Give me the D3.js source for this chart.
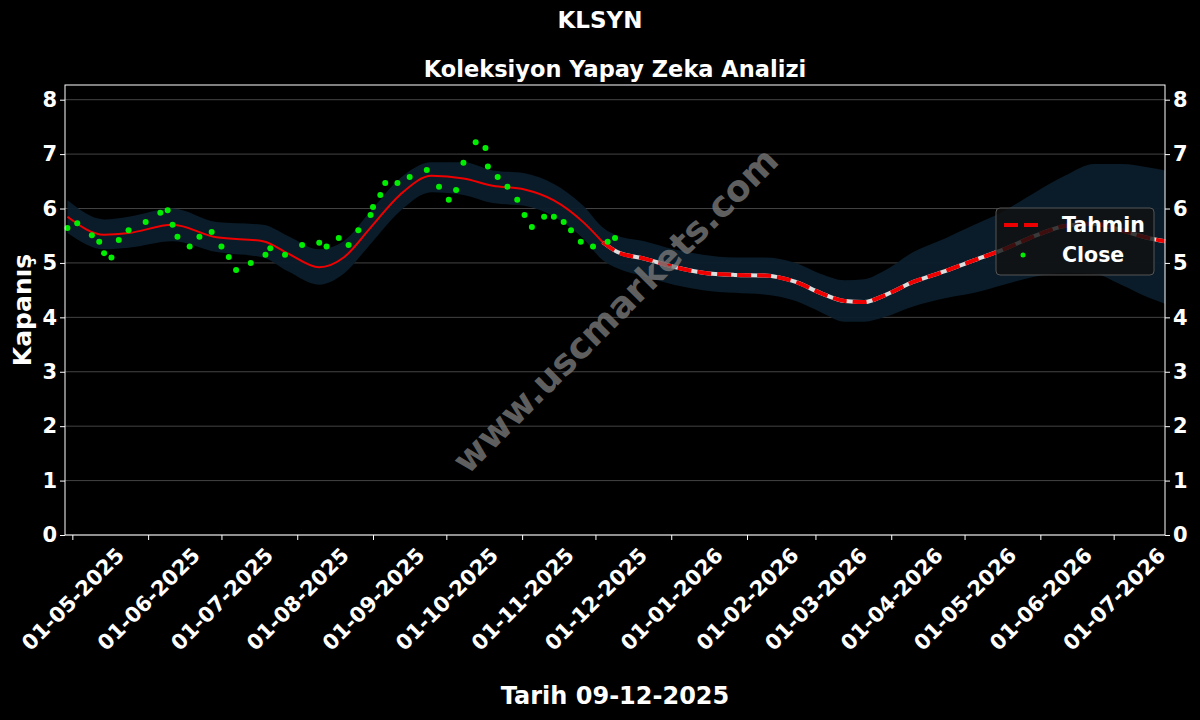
<!DOCTYPE html>
<html>
<head>
<meta charset="UTF-8"/>
<script src="https://cdn.jsdelivr.net/npm/d3@7"></script>
<style>
  body { margin: 0; background: #000; }
  svg { font-family: "DejaVu Sans", sans-serif; font-weight: bold; }
</style>
</head>
<body>
<svg id="main" width="1200" height="720"></svg>
<script>
// close prices (date, value)
var closeDates = ['2025-04-29','2025-05-03','2025-05-09','2025-05-12','2025-05-14','2025-05-17','2025-05-20','2025-05-24','2025-05-31','2025-06-06','2025-06-09','2025-06-11','2025-06-13','2025-06-18','2025-06-22','2025-06-27','2025-07-01','2025-07-04','2025-07-07','2025-07-13','2025-07-19','2025-07-21','2025-07-27','2025-08-03','2025-08-10','2025-08-13','2025-08-18','2025-08-22','2025-08-26','2025-08-31','2025-09-01','2025-09-04','2025-09-06','2025-09-11','2025-09-16','2025-09-23','2025-09-28','2025-10-02','2025-10-05','2025-10-08','2025-10-13','2025-10-17','2025-10-18','2025-10-22','2025-10-26','2025-10-30','2025-11-02','2025-11-05','2025-11-10','2025-11-14','2025-11-18','2025-11-21','2025-11-25','2025-11-30','2025-12-06','2025-12-09'];
var closeValues = [5.64,5.73,5.51,5.39,5.18,5.10,5.42,5.60,5.75,5.92,5.97,5.70,5.48,5.30,5.48,5.57,5.30,5.11,4.87,5.00,5.15,5.27,5.15,5.33,5.37,5.30,5.46,5.33,5.60,5.88,6.03,6.25,6.47,6.47,6.58,6.71,6.40,6.16,6.34,6.84,7.22,7.11,6.77,6.58,6.40,6.16,5.88,5.66,5.85,5.85,5.75,5.60,5.39,5.30,5.39,5.46];

// model line and confidence band
var predDates = ['2025-04-29','2025-05-14','2025-05-24','2025-06-11','2025-06-29','2025-07-18','2025-07-28','2025-08-10','2025-08-20','2025-08-31','2025-09-12','2025-09-25','2025-10-08','2025-10-20','2025-11-02','2025-11-14','2025-11-26','2025-12-04','2025-12-10','2025-12-21','2026-01-02','2026-01-14','2026-01-27','2026-02-08','2026-02-21','2026-03-03','2026-03-13','2026-03-21','2026-03-29','2026-04-10','2026-04-23','2026-05-05','2026-05-17','2026-05-30','2026-06-11','2026-06-23','2026-07-04','2026-07-16','2026-07-22'];
var predValues = [5.85,5.52,5.55,5.70,5.47,5.40,5.18,4.92,5.10,5.65,6.25,6.60,6.55,6.42,6.35,6.15,5.75,5.38,5.20,5.08,4.93,4.82,4.78,4.77,4.65,4.45,4.30,4.28,4.40,4.65,4.85,5.05,5.25,5.50,5.68,5.72,5.60,5.45,5.40];
var bandLow = [5.55,5.25,5.28,5.40,5.20,5.10,4.85,4.60,4.80,5.35,5.95,6.30,6.25,6.10,6.05,5.85,5.45,5.05,4.90,4.75,4.60,4.50,4.45,4.42,4.30,4.10,3.92,3.92,4.00,4.20,4.35,4.45,4.60,4.75,4.82,4.80,4.60,4.35,4.25];
var bandHigh = [6.15,5.80,5.85,6.00,5.75,5.70,5.50,5.25,5.40,5.95,6.55,6.85,6.85,6.70,6.65,6.45,6.05,5.65,5.50,5.40,5.25,5.15,5.10,5.10,5.00,4.80,4.68,4.70,4.85,5.20,5.45,5.70,5.95,6.30,6.60,6.82,6.82,6.75,6.70];
var lastClose = '2025-12-09';

var xTicks = ['2025-05-01','2025-06-01','2025-07-01','2025-08-01','2025-09-01','2025-10-01','2025-11-01','2025-12-01','2026-01-01','2026-02-01','2026-03-01','2026-04-01','2026-05-01','2026-06-01','2026-07-01'];
var yTicks = [0,1,2,3,4,5,6,7,8];

var parse = d3.timeParse('%Y-%m-%d');
var fmt = d3.timeFormat('%d-%m-%Y');
var svg = d3.select('#main');
var pl = 65, pr = 1165, pt = 85, pb = 535;

var x = d3.scaleTime().domain([parse('2025-04-28'), parse('2026-07-22')]).range([pl, pr]);
var y = d3.scaleLinear().domain([0, 8.27]).range([pb, pt]);

var pred = predDates.map(function(d, i){ return {date: parse(d), v: predValues[i], lo: bandLow[i], hi: bandHigh[i]}; });
var close = closeDates.map(function(d, i){ return {date: parse(d), v: closeValues[i]}; });
var cut = parse(lastClose);

// grid
svg.append('g').selectAll('line').data(yTicks).enter().append('line')
    .attr('x1', pl).attr('x2', pr)
    .attr('y1', function(d){ return y(d); }).attr('y2', function(d){ return y(d); })
    .attr('stroke', '#555').attr('stroke-width', 0.8);

// band
svg.append('path').datum(pred)
    .attr('d', d3.area().curve(d3.curveMonotoneX)
        .x(function(d){ return x(d.date); })
        .y0(function(d){ return y(d.lo); }).y1(function(d){ return y(d.hi); }))
    .attr('fill', '#0b1d2b').attr('opacity', 0.95);

var line = d3.line().curve(d3.curveMonotoneX)
    .x(function(d){ return x(d.date); }).y(function(d){ return y(d.v); });

// past part solid, future part white + red dashes
var past = pred.filter(function(d){ return d.date <= parse('2025-12-04'); });
var future = pred.filter(function(d){ return d.date >= parse('2025-12-04'); });
svg.append('path').datum(past).attr('d', line).attr('fill', 'none').attr('stroke', '#e00').attr('stroke-width', 2);
svg.append('path').datum(future).attr('d', line).attr('fill', 'none').attr('stroke', '#ddd').attr('stroke-width', 4);
svg.append('path').datum(future).attr('d', line).attr('fill', 'none').attr('stroke', '#e00').attr('stroke-width', 4).attr('stroke-dasharray', '14,6');

// close points
svg.append('g').selectAll('circle').data(close).enter().append('circle')
    .attr('cx', function(d){ return x(d.date); }).attr('cy', function(d){ return y(d.v); })
    .attr('r', 3).attr('fill', '#00ee00');

// watermark
svg.append('text').attr('transform', 'translate(617,312) rotate(-45)')
    .attr('text-anchor', 'middle').attr('dominant-baseline', 'middle')
    .attr('font-size', 36).attr('fill', '#777').attr('opacity', 0.8).text('www.uscmarkets.com');

// frame
svg.append('rect').attr('x', pl).attr('y', pt).attr('width', pr - pl).attr('height', pb - pt)
    .attr('fill', 'none').attr('stroke', '#fff').attr('stroke-width', 1);

// axes
var yl = svg.append('g').attr('transform', 'translate(' + pl + ',0)')
    .call(d3.axisLeft(y).tickValues(yTicks).tickFormat(d3.format('d')).tickSize(5));
var yr = svg.append('g').attr('transform', 'translate(' + pr + ',0)')
    .call(d3.axisRight(y).tickValues(yTicks).tickFormat(d3.format('d')).tickSize(5));
var xa = svg.append('g').attr('transform', 'translate(0,' + pb + ')')
    .call(d3.axisBottom(x).tickValues(xTicks.map(parse)).tickFormat(fmt).tickSize(5));
[yl, yr, xa].forEach(function(g){
    g.select('.domain').remove();
    g.selectAll('line').attr('stroke', '#fff');
    g.selectAll('text').attr('fill', '#fff').attr('font-size', 21).attr('font-family', 'DejaVu Sans').attr('font-weight', 'bold');
});
xa.selectAll('text').attr('text-anchor', 'middle').attr('dy', '0.35em').attr('y', 0)
    .attr('transform', 'translate(0,64) rotate(-45)');

// titles
svg.append('text').attr('x', 600).attr('y', 28).attr('text-anchor', 'middle').attr('fill', '#fff').attr('font-size', 23).text('KLSYN');
svg.append('text').attr('x', 615).attr('y', 77).attr('text-anchor', 'middle').attr('fill', '#fff').attr('font-size', 22.5).text('Koleksiyon Yapay Zeka Analizi');
svg.append('text').attr('x', 615).attr('y', 704).attr('text-anchor', 'middle').attr('fill', '#fff').attr('font-size', 24).text('Tarih ' + fmt(cut));
svg.append('text').attr('transform', 'translate(31,310) rotate(-90)').attr('text-anchor', 'middle').attr('fill', '#fff').attr('font-size', 25).text('Kapanış');

// legend
var lg = svg.append('g').attr('transform', 'translate(996,208)');
lg.append('rect').attr('width', 158).attr('height', 67).attr('rx', 4)
    .attr('fill', '#111').attr('fill-opacity', 0.8).attr('stroke', '#555');
lg.append('line').attr('x1', 8).attr('x2', 48).attr('y1', 17).attr('y2', 17)
    .attr('stroke', '#e00').attr('stroke-width', 4).attr('stroke-dasharray', '14,6');
lg.append('circle').attr('cx', 27).attr('cy', 47).attr('r', 2.5).attr('fill', '#00ee00');
lg.append('text').attr('x', 66).attr('y', 24).attr('fill', '#fff').attr('font-size', 20.5).text('Tahmin');
lg.append('text').attr('x', 66).attr('y', 54).attr('fill', '#fff').attr('font-size', 20.5).text('Close');
</script>
</body>
</html>
